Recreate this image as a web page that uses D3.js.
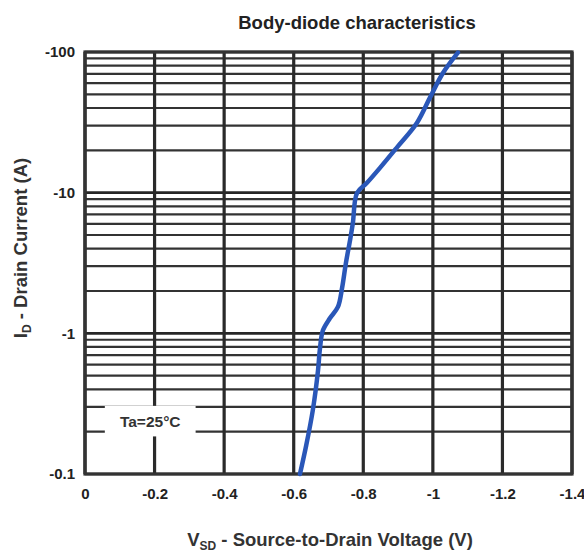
<!DOCTYPE html>
<html>
<head>
<meta charset="utf-8">
<script src="https://cdn.jsdelivr.net/npm/d3@7/dist/d3.min.js"></script>
<style>
  html, body { margin: 0; padding: 0; background: #fff; }
  svg { display: block; }
  text { font-family: "Liberation Sans", Arial, sans-serif; }
</style>
</head>
<body>
<div id="chart"></div>
<script>
// ---- data ----
const title = "Body-diode characteristics";
const xTicks = [0, -0.2, -0.4, -0.6, -0.8, -1, -1.2, -1.4];
const xTickLabels = ["0", "-0.2", "-0.4", "-0.6", "-0.8", "-1", "-1.2", "-1.4"];
const yTicks = [-0.1, -1, -10, -100];
const yTickLabels = ["-0.1", "-1", "-10", "-100"];
const vsd = [-0.618, -0.636, -0.655, -0.670, -0.675, -0.684, -0.704, -0.727, -0.739, -0.750, -0.762, -0.770, -0.782, -0.810, -0.848, -0.897, -0.954, -0.992, -1.029, -1.072];
const id  = [-0.1, -0.16, -0.285, -0.548, -0.76, -1.05, -1.28, -1.54, -2.10, -3.16, -4.60, -6.08, -9.93, -11.7, -15.0, -21.0, -31.3, -47.6, -70.9, -99];
const annotation = "Ta=25°C";

// ---- layout ----
const W = 584, H = 552;
const L = 85, R = 572, T = 52, B = 474;
const FONT = '"Liberation Sans", Arial, sans-serif';

const svg = d3.select("#chart").append("svg").attr("width", W).attr("height", H);

const x = d3.scaleLinear().domain([0, -1.4]).range([L, R]);
const y = d3.scaleLog().domain([-0.1, -100]).range([B, T]);

// minor log grid values
const minor = [];
yTicks.slice(0, -1).forEach(d => { for (let k = 2; k <= 9; k++) minor.push(d * k); });

const grid = svg.append("g");
grid.selectAll("line.minor").data(minor).join("line")
  .attr("x1", L).attr("x2", R)
  .attr("y1", d => y(d)).attr("y2", d => y(d))
  .attr("stroke", "#333").attr("stroke-width", 2.2);
grid.selectAll("line.major").data(yTicks).join("line")
  .attr("x1", L).attr("x2", R)
  .attr("y1", d => y(d)).attr("y2", d => y(d))
  .attr("stroke", "#262626").attr("stroke-width", 2.6);
grid.selectAll("line.v").data(xTicks).join("line")
  .attr("x1", d => x(d)).attr("x2", d => x(d))
  .attr("y1", T).attr("y2", B)
  .attr("stroke", "#2a2a2a").attr("stroke-width", 3.2);

// annotation box
const ax0 = x(-0.057), ax1 = x(-0.318);
svg.append("rect").attr("x", ax0).attr("y", y(-0.305)).attr("width", ax1 - ax0)
  .attr("height", y(-0.185) - y(-0.305)).attr("fill", "#fff");
svg.append("text").attr("x", (ax0 + ax1) / 2).attr("y", (y(-0.305) + y(-0.185)) / 2 + 5.5)
  .attr("text-anchor", "middle").attr("font-size", 15.5).attr("font-weight", "bold")
  .attr("fill", "#333").text(annotation);

// frame
svg.append("rect").attr("x", L).attr("y", T).attr("width", R - L).attr("height", B - T)
  .attr("fill", "none").attr("stroke", "#333").attr("stroke-width", 3.2);

// curve
const pts = vsd.map((v, i) => [v, id[i]]);
svg.append("path").datum(pts)
  .attr("d", d3.line().x(d => x(d[0])).y(d => y(d[1])).curve(d3.curveCatmullRom.alpha(0.5)))
  .attr("fill", "none").attr("stroke", "#2a57b8").attr("stroke-width", 4.5)
  .attr("stroke-linecap", "round").attr("stroke-linejoin", "round");

// axes labels
const xAxis = d3.axisBottom(x).tickValues(xTicks).tickSize(0).tickPadding(12)
  .tickFormat((d, i) => xTickLabels[i]);
const gx = svg.append("g").attr("transform", `translate(0,${B + 2})`).call(xAxis);
gx.select(".domain").remove();
gx.selectAll("text").attr("font-size", 15).attr("font-weight", "bold").attr("fill", "#222")
  .style("font-family", FONT);

const yAxis = d3.axisLeft(y).tickValues(yTicks).tickSize(0).tickPadding(8)
  .tickFormat((d, i) => yTickLabels[i]);
const gy = svg.append("g").attr("transform", `translate(${L - 2},0)`).call(yAxis);
gy.select(".domain").remove();
gy.selectAll("text").attr("font-size", 15).attr("font-weight", "bold").attr("fill", "#222")
  .style("font-family", FONT);

// title
svg.append("text").attr("x", 357).attr("y", 29).attr("text-anchor", "middle")
  .attr("font-size", 18.5).attr("font-weight", "bold").attr("fill", "#222").text(title);

// x axis title
const xt = svg.append("text").attr("x", 330).attr("y", 546).attr("text-anchor", "middle")
  .attr("font-size", 18.5).attr("font-weight", "bold").attr("fill", "#333");
xt.append("tspan").text("V");
xt.append("tspan").attr("font-size", 12).attr("dy", 4).text("SD");
xt.append("tspan").attr("dy", -4).text(" - Source-to-Drain Voltage (V)");

// y axis title
const yt = svg.append("text").attr("transform", "translate(27,248) rotate(-90)")
  .attr("text-anchor", "middle").attr("font-size", 18.5).attr("font-weight", "bold").attr("fill", "#333");
yt.append("tspan").text("I");
yt.append("tspan").attr("font-size", 12).attr("dy", 4).text("D");
yt.append("tspan").attr("dy", -4).text(" - Drain Current (A)");
</script>
</body>
</html>
